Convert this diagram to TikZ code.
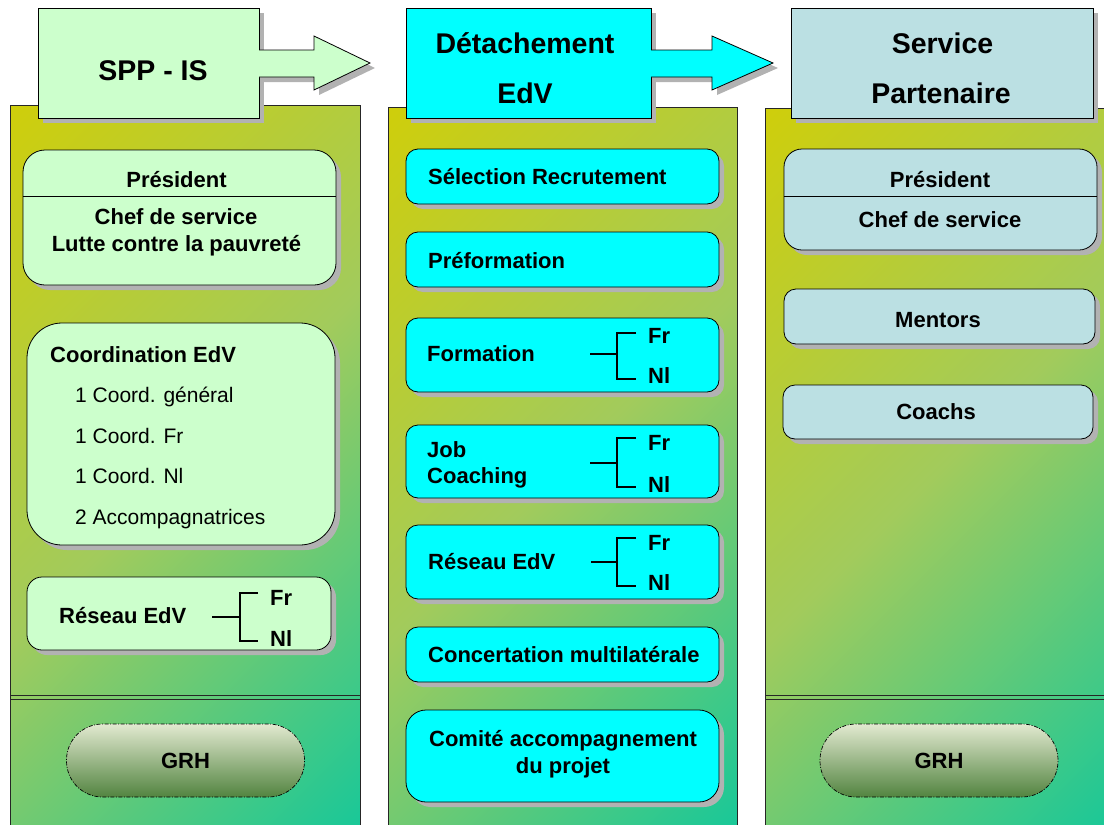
\documentclass[tikz,border=0pt]{standalone}
\usepackage{fontspec}
\setmainfont{Liberation Sans}
\usetikzlibrary{shadows}
\definecolor{pyellow}{RGB}{206,206,12}
\definecolor{pmid}{RGB}{162,203,92}
\definecolor{pteal}{RGB}{26,200,152}
\definecolor{lgreen}{RGB}{204,255,204}
\definecolor{lcyan}{RGB}{0,255,255}
\definecolor{lblue}{RGB}{187,224,227}
\definecolor{shgray}{RGB}{178,178,178}
\definecolor{grhtop}{RGB}{226,233,208}
\definecolor{grhmid}{RGB}{168,190,124}
\definecolor{grhbot}{RGB}{82,132,64}
\pgfdeclareverticalshading{panelshade}{100bp}{color(0bp)=(pteal); color(15bp)=(pteal); color(50bp)=(pmid); color(85bp)=(pyellow); color(100bp)=(pyellow)}
\begin{document}
\begin{tikzpicture}[x=1pt,y=-1pt,
  panel/.style={draw=black!85, line width=0.8pt, shade, shading=panelshade, shading angle=45, anchor=north west, inner sep=0pt},
  shad/.style={drop shadow={shadow xshift=5pt, shadow yshift=-5pt, fill=shgray, opacity=1}},
  rbox/.style={draw=black, line width=0.8pt, rounded corners=#1, inner sep=0pt, shad},
  rbox/.default=12pt,
  hdr/.style={draw=black, line width=0.8pt, inner sep=0pt, shad, minimum height=110pt},
  grh/.style={draw=black, line width=0.7pt, dash pattern=on 4pt off 1.5pt on 1pt off 1.5pt, rounded corners=36pt,
    top color=grhtop, middle color=grhmid, bottom color=grhbot, minimum width=238pt, minimum height=73pt,
    font=\fontsize{22}{26}\selectfont\bfseries, inner sep=0pt},
  tb/.style={font=\fontsize{22}{26}\selectfont\bfseries, inner sep=0pt},
  tr/.style={font=\fontsize{21}{25}\selectfont, inner sep=0pt},
  ttl/.style={font=\fontsize{28.5}{32}\selectfont\bfseries, inner sep=0pt},
  brk/.style={line width=1.6pt},
  sep/.style={line width=1pt},
  dl/.style={line width=1pt, black!85}
]
\useasboundingbox (0,0) rectangle (1104,825);

% ---------- panels ----------
\node[panel, minimum width=350pt, minimum height=725pt] (p1) at (10,105) {};
\node[panel, minimum width=349pt, minimum height=723pt] (p2) at (388,107) {};
\node[panel, minimum width=350pt, minimum height=722pt] (p3) at (765,108) {};
\draw[dl] (p1.west |- 0,695) -- (p1.east |- 0,695);
\draw[dl] (p1.west |- 0,699) -- (p1.east |- 0,699);
\draw[dl] (p3.west |- 0,695) -- (p3.east |- 0,695);
\draw[dl] (p3.west |- 0,699) -- (p3.east |- 0,699);

% ---------- headers ----------
\node[hdr, fill=lgreen, minimum width=221pt] (h1) at (148.5,63) {};
\path[fill=lgreen, shad] (257,50) -- (314,50) -- (314,36) -- (370,63) -- (314,90) -- (314,77) -- (257,77) -- cycle;
\draw[line width=0.8pt] (259,50) -- (314,50) -- (314,36) -- (370,63) -- (314,90) -- (314,77) -- (259,77);
\node[ttl, anchor=base] (h1t) at (153,80) {SPP - IS};

\node[hdr, fill=lcyan, minimum width=245pt] (h2) at (528.5,63) {};
\path[fill=lcyan, shad] (649,50) -- (712,50) -- (712,36) -- (773,63) -- (712,90) -- (712,77) -- (649,77) -- cycle;
\draw[line width=0.8pt] (651,50) -- (712,50) -- (712,36) -- (773,63) -- (712,90) -- (712,77) -- (651,77);
\node[ttl, anchor=base] (h2a) at (525,53) {Détachement};
\node[ttl, anchor=base] (h2b) at (525,103) {EdV};

\node[hdr, fill=lblue, minimum width=302pt] (h3) at (942,63) {};
\node[ttl, anchor=base] (h3a) at (942.5,53) {Service};
\node[ttl, anchor=base] (h3b) at (941,103) {Partenaire};

% ---------- left column ----------
\node[rbox=22pt, fill=lgreen, minimum width=313pt, minimum height=135pt] (lpres) at (179.5,217.5) {};
\draw[sep] (lpres.west |- 0,196) -- (lpres.east |- 0,196);
\node[tb, anchor=base] (lpt) at (176.5,187) {Président};
\node[tb, anchor=base] (lc1) at (176,224) {Chef de service};
\node[tb, anchor=base] (lc2) at (176.5,251) {Lutte contre la pauvreté};

\node[rbox=35pt, fill=lgreen, minimum width=308pt, minimum height=222pt] (lcoord) at (181,434) {};
\node[tb, anchor=base west] (lco0) at (50,362) {Coordination EdV};
\node[tr, anchor=base west] (lco1) at (75,402) {1 Coord. général};
\node[tr, anchor=base west] (lco2) at (75,443) {1 Coord. Fr};
\node[tr, anchor=base west] (lco3) at (75,483) {1 Coord. Nl};
\node[tr, anchor=base west] (lco4) at (75,524) {2 Accompagnatrices};

\node[rbox=15pt, fill=lgreen, minimum width=304pt, minimum height=73pt] (lres) at (179,613.5) {};
\node[tb, anchor=base west] (lrest) at (59,623) {Réseau EdV};
\coordinate (lb0) at (212,617);
\coordinate (lbj) at (240,617);
\coordinate (lbt) at (258,593);
\coordinate (lbb) at (258,641);
\draw[brk] (lb0) -- (lbj);
\draw[brk] (lbt) -| (lbj) |- (lbb);
\node[tb, anchor=base west] (lfr) at (270,605) {Fr};
\node[tb, anchor=base west] (lnl) at (270,646) {Nl};

\node[grh] (lgrh) at (185.5,760.5) {GRH};

% ---------- middle column ----------
\node[rbox, fill=lcyan, minimum width=313pt, minimum height=55pt] (m1) at (562.5,176.5) {};
\node[tb, anchor=base west] (m1t) at (428,184) {Sélection Recrutement};
\node[rbox, fill=lcyan, minimum width=313pt, minimum height=55pt] (m2) at (562.5,259.5) {};
\node[tb, anchor=base west] (m2t) at (428,268) {Préformation};

\node[rbox, fill=lcyan, minimum width=313pt, minimum height=74pt] (m3) at (562.5,355) {};
\node[tb, anchor=base west] (m3t) at (427,361) {Formation};
\coordinate (f0) at (590,354);
\coordinate (fj) at (617,354);
\coordinate (ft) at (636,333);
\coordinate (fb) at (636,379);
\draw[brk] (f0) -- (fj);
\draw[brk] (ft) -| (fj) |- (fb);
\node[tb, anchor=base west] (ffr) at (648,343) {Fr};
\node[tb, anchor=base west] (fnl) at (648,383) {Nl};

\node[rbox, fill=lcyan, minimum width=313pt, minimum height=73pt] (m4) at (562.5,461.5) {};
\node[tb, anchor=base west] (m4a) at (427,457) {Job};
\node[tb, anchor=base west] (m4b) at (427,483) {Coaching};
\coordinate (j0) at (590,463);
\coordinate (jj) at (617,463);
\coordinate (jt) at (636,438);
\coordinate (jb) at (636,487);
\draw[brk] (j0) -- (jj);
\draw[brk] (jt) -| (jj) |- (jb);
\node[tb, anchor=base west] (jfr) at (648,450) {Fr};
\node[tb, anchor=base west] (jnl) at (648,492) {Nl};

\node[rbox, fill=lcyan, minimum width=313pt, minimum height=74pt] (m5) at (562.5,562) {};
\node[tb, anchor=base west] (m5t) at (428,569) {Réseau EdV};
\coordinate (r0) at (591,562);
\coordinate (rj) at (617,562);
\coordinate (rt) at (636,538);
\coordinate (rb) at (636,586);
\draw[brk] (r0) -- (rj);
\draw[brk] (rt) -| (rj) |- (rb);
\node[tb, anchor=base west] (rfr) at (648,550) {Fr};
\node[tb, anchor=base west] (rnl) at (648,590) {Nl};

\node[rbox, fill=lcyan, minimum width=313pt, minimum height=55pt] (m6) at (562.5,654.5) {};
\node[tb, anchor=base west] (m6t) at (428,662) {Concertation multilatérale};

\node[rbox=20pt, fill=lcyan, minimum width=313pt, minimum height=92pt] (m7) at (562.5,756) {};
\node[tb, anchor=base] (m7a) at (563,746) {Comité accompagnement};
\node[tb, anchor=base] (m7b) at (563,773) {du projet};

% ---------- right column ----------
\node[rbox=18pt, fill=lblue, minimum width=313pt, minimum height=101pt] (r1) at (940.5,199.5) {};
\draw[sep] (r1.west |- 0,196) -- (r1.east |- 0,196);
\node[tb, anchor=base] (r1a) at (940,187) {Président};
\node[tb, anchor=base] (r1b) at (940,227) {Chef de service};

\node[rbox, fill=lblue, minimum width=311pt, minimum height=55pt] (r2) at (939.5,316.5) {};
\node[tb, anchor=base] (r2t) at (938,327) {Mentors};

\node[rbox, fill=lblue, minimum width=310pt, minimum height=54pt] (r3) at (938,412) {};
\node[tb, anchor=base] (r3t) at (936,419) {Coachs};

\node[grh] (rgrh) at (939,760.5) {GRH};
\end{tikzpicture}
\end{document}
